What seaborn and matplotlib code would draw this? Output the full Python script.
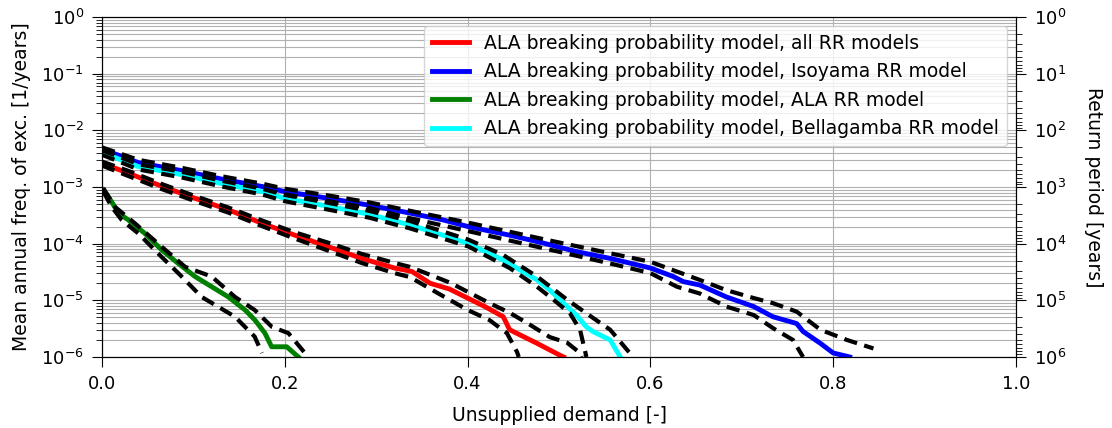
import numpy as np
import matplotlib
matplotlib.use("Agg")
import matplotlib.pyplot as plt
import seaborn as sns

# ---------------- data (log10 of mean annual frequency of exceedance) ----------------
red_x = [0.0, 0.028, 0.066, 0.102, 0.138, 0.175, 0.211, 0.247, 0.284, 0.320, 0.339, 0.359, 0.380, 0.400, 0.420, 0.439, 0.446, 0.476, 0.501, 0.505]
red_y = [-2.58, -2.75, -2.99, -3.20, -3.40, -3.64, -3.85, -4.05, -4.26, -4.43, -4.49, -4.70, -4.80, -4.96, -5.12, -5.29, -5.52, -5.76, -5.97, -6.0]
red_hi_x = [0.0, 0.028, 0.066, 0.102, 0.138, 0.175, 0.211, 0.247, 0.284, 0.320, 0.337, 0.381, 0.424, 0.446, 0.465, 0.490, 0.509, 0.523, 0.525]
red_hi_y = [-2.55, -2.71, -2.95, -3.16, -3.36, -3.59, -3.80, -3.98, -4.18, -4.34, -4.41, -4.69, -5.05, -5.22, -5.40, -5.65, -5.75, -5.93, -6.0]
red_lo_x = [0.0, 0.028, 0.066, 0.102, 0.138, 0.175, 0.211, 0.247, 0.284, 0.320, 0.337, 0.367, 0.400, 0.424, 0.443, 0.454, 0.456]
red_lo_y = [-2.62, -2.80, -3.04, -3.25, -3.45, -3.69, -3.91, -4.12, -4.34, -4.52, -4.59, -4.87, -5.17, -5.35, -5.58, -5.91, -6.0]

blue_x = [0.0, 0.040, 0.087, 0.131, 0.175, 0.200, 0.248, 0.292, 0.337, 0.373, 0.401, 0.446, 0.483, 0.519, 0.556, 0.600, 0.625, 0.636, 0.654, 0.683, 0.713, 0.734, 0.760, 0.767, 0.786, 0.800, 0.818]
blue_y = [-2.33, -2.57, -2.71, -2.86, -2.99, -3.08, -3.20, -3.32, -3.46, -3.58, -3.70, -3.85, -3.99, -4.14, -4.26, -4.43, -4.58, -4.67, -4.73, -4.94, -5.11, -5.29, -5.41, -5.55, -5.76, -5.93, -6.0]
blue_hi_x = [0.0, 0.040, 0.087, 0.131, 0.175, 0.200, 0.248, 0.292, 0.337, 0.401, 0.483, 0.556, 0.600, 0.654, 0.683, 0.713, 0.734, 0.760, 0.786, 0.815, 0.844]
blue_hi_y = [-2.30, -2.52, -2.66, -2.81, -2.94, -3.03, -3.15, -3.27, -3.42, -3.63, -3.92, -4.17, -4.32, -4.64, -4.82, -4.96, -5.05, -5.20, -5.52, -5.70, -5.85]
blue_lo_x = [0.0, 0.040, 0.087, 0.131, 0.175, 0.200, 0.248, 0.292, 0.337, 0.401, 0.483, 0.556, 0.600, 0.629, 0.654, 0.683, 0.713, 0.734, 0.756, 0.767]
blue_lo_y = [-2.38, -2.61, -2.76, -2.91, -3.04, -3.13, -3.25, -3.37, -3.55, -3.78, -4.08, -4.35, -4.52, -4.76, -4.88, -5.11, -5.26, -5.49, -5.70, -6.0]

green_x = [0.0015, 0.0106, 0.0179, 0.0288, 0.047, 0.0653, 0.0835, 0.1018, 0.120, 0.1382, 0.1565, 0.1674, 0.1783, 0.1856, 0.2021, 0.2148]
green_y = [-3.05, -3.26, -3.46, -3.58, -3.82, -4.11, -4.35, -4.58, -4.76, -4.94, -5.17, -5.35, -5.58, -5.82, -5.82, -6.0]
green_hi_x = [0.0015, 0.0142, 0.036, 0.065, 0.091, 0.120, 0.1455, 0.167, 0.186, 0.204, 0.222]
green_hi_y = [-3.02, -3.35, -3.64, -4.05, -4.41, -4.58, -4.94, -5.17, -5.47, -5.58, -5.93]
green_lo_x = [0.0015, 0.0106, 0.0215, 0.0398, 0.065, 0.0835, 0.109, 0.1455, 0.167, 0.175]
green_lo_y = [-3.08, -3.35, -3.58, -3.82, -4.23, -4.52, -4.94, -5.29, -5.64, -5.93]

cyan_x = [0.0, 0.040, 0.087, 0.131, 0.175, 0.200, 0.248, 0.292, 0.337, 0.373, 0.401, 0.439, 0.457, 0.476, 0.490, 0.505, 0.519, 0.530, 0.537, 0.556, 0.567]
cyan_y = [-2.39, -2.64, -2.78, -2.94, -3.08, -3.20, -3.34, -3.48, -3.67, -3.85, -4.00, -4.29, -4.46, -4.64, -4.82, -5.05, -5.26, -5.47, -5.55, -5.70, -6.0]
cyan_hi_x = [0.0, 0.040, 0.087, 0.131, 0.175, 0.200, 0.248, 0.292, 0.337, 0.401, 0.439, 0.476, 0.509, 0.530, 0.556, 0.581]
cyan_hi_y = [-2.35, -2.60, -2.73, -2.89, -3.03, -3.14, -3.28, -3.42, -3.60, -3.93, -4.20, -4.58, -4.99, -5.23, -5.52, -6.0]
cyan_lo_x = [0.0, 0.040, 0.087, 0.131, 0.175, 0.200, 0.248, 0.292, 0.337, 0.401, 0.446, 0.476, 0.494, 0.512, 0.523, 0.530]
cyan_lo_y = [-2.43, -2.69, -2.83, -2.99, -3.13, -3.25, -3.40, -3.54, -3.73, -4.05, -4.43, -4.76, -4.99, -5.23, -5.52, -6.0]

labels = [
    "ALA breaking probability model, all RR models",
    "ALA breaking probability model, Isoyama RR model",
    "ALA breaking probability model, ALA RR model",
    "ALA breaking probability model, Bellagamba RR model",
]
colors = ["red", "blue", "green", "cyan"]

models = [
    (red_x, red_y, red_hi_x, red_hi_y, red_lo_x, red_lo_y),
    (blue_x, blue_y, blue_hi_x, blue_hi_y, blue_lo_x, blue_lo_y),
    (green_x, green_y, green_hi_x, green_hi_y, green_lo_x, green_lo_y),
    (cyan_x, cyan_y, cyan_hi_x, cyan_hi_y, cyan_lo_x, cyan_lo_y),
]

FS = 13.5
TFS = 13

# ---------------- figure ----------------
fig, ax = plt.subplots(figsize=(11.12, 4.28), dpi=100)
fig.subplots_adjust(left=0.0917, right=0.9137, top=0.960, bottom=0.166)
ax.set_yscale("log")

handles = []
for (mx, my, hx, hy, lx, ly), lab, col in zip(models, labels, colors):
    sns.lineplot(x=mx, y=10.0 ** np.array(my), color=col, lw=3.5, ax=ax,
                 sort=False, estimator=None, label=lab, legend=False)
    handles.append(ax.lines[-1])
    for bx, by in ((hx, hy), (lx, ly)):
        sns.lineplot(x=bx, y=10.0 ** np.array(by), color="black", lw=3,
                     linestyle=(0, (3.2, 1.8)), ax=ax, sort=False,
                     estimator=None, legend=False)

ax.set_xlim(0, 1)
ax.set_ylim(1e-6, 1)
ax.grid(True, which="both", color="#b0b0b0", lw=0.8)
ax.tick_params(which="major", labelsize=TFS, length=7, pad=6)
ax.tick_params(which="minor", length=4)
ax.set_xlabel("Unsupplied demand [-]", fontsize=FS, labelpad=9)
ax.set_ylabel("Mean annual freq. of exc. [1/years]", fontsize=FS, labelpad=7)

ax.legend(handles=handles, labels=labels, loc="upper right", fontsize=FS)

ax2 = ax.twinx()
ax2.set_yscale("log")
ax2.set_ylim(1e6, 1)
ax2.tick_params(which="major", labelsize=TFS, length=7, pad=6)
ax2.tick_params(which="minor", length=4)
ax2.set_ylabel("Return period [years]", rotation=270, labelpad=26, fontsize=FS)

fig.savefig("out.png", dpi=100)
